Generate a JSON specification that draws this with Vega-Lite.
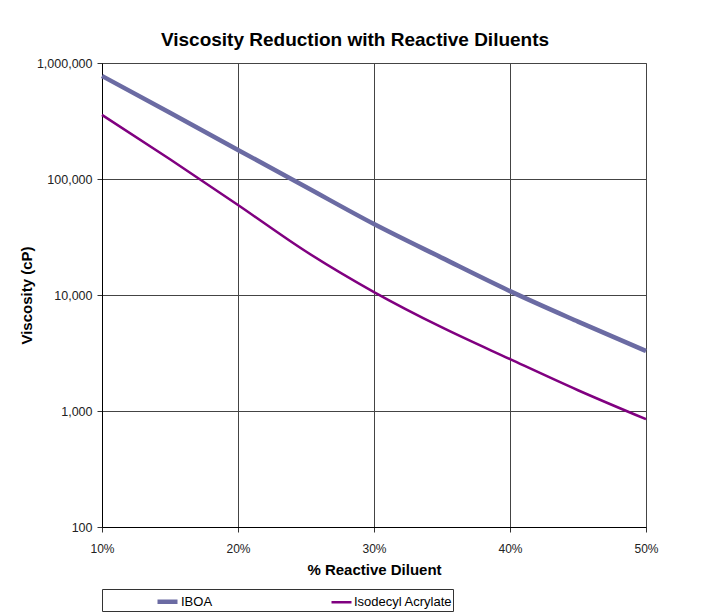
{
  "$schema": "https://vega.github.io/schema/vega-lite/v6.json",
  "width": 544,
  "height": 464,
  "autosize": {"type": "none"},
  "padding": {"left": 102, "top": 63, "right": 61, "bottom": 85},
  "background": "white",
  "title": {
    "text": "Viscosity Reduction with Reactive Diluents",
    "font": "Liberation Sans",
    "fontSize": 19,
    "fontWeight": "bold",
    "color": "#000000",
    "frame": "group",
    "anchor": "middle",
    "dx": -19,
    "offset": 7
  },
  "data": {
    "values": [
      {"pct": 10, "viscosity": 773000, "series": "IBOA"},
      {"pct": 15, "viscosity": 372000, "series": "IBOA"},
      {"pct": 20, "viscosity": 178000, "series": "IBOA"},
      {"pct": 25, "viscosity": 85300, "series": "IBOA"},
      {"pct": 30, "viscosity": 40900, "series": "IBOA"},
      {"pct": 35, "viscosity": 20900, "series": "IBOA"},
      {"pct": 40, "viscosity": 10800, "series": "IBOA"},
      {"pct": 45, "viscosity": 5900, "series": "IBOA"},
      {"pct": 50, "viscosity": 3290, "series": "IBOA"},
      {"pct": 10, "viscosity": 357000, "series": "Isodecyl Acrylate"},
      {"pct": 15, "viscosity": 148000, "series": "Isodecyl Acrylate"},
      {"pct": 20, "viscosity": 59700, "series": "Isodecyl Acrylate"},
      {"pct": 25, "viscosity": 23700, "series": "Isodecyl Acrylate"},
      {"pct": 30, "viscosity": 10600, "series": "Isodecyl Acrylate"},
      {"pct": 35, "viscosity": 5250, "series": "Isodecyl Acrylate"},
      {"pct": 40, "viscosity": 2800, "series": "Isodecyl Acrylate"},
      {"pct": 45, "viscosity": 1510, "series": "Isodecyl Acrylate"},
      {"pct": 50, "viscosity": 850, "series": "Isodecyl Acrylate"}
    ]
  },
  "mark": {"type": "line", "interpolate": "monotone"},
  "encoding": {
    "x": {
      "field": "pct",
      "type": "quantitative",
      "scale": {"domain": [10, 50], "nice": false, "zero": false},
      "axis": {
        "values": [10, 20, 30, 40, 50],
        "labelExpr": "datum.value + '%'",
        "labelFlush": false,
        "title": "% Reactive Diluent",
        "titleFont": "Liberation Sans",
        "titleFontSize": 15,
        "titleFontWeight": "bold",
        "titleColor": "#000000",
        "titlePadding": 8,
        "labelFont": "Liberation Sans",
        "labelFontSize": 12,
        "labelColor": "#222222",
        "labelPadding": 11,
        "tickSize": 5,
        "tickColor": "#333333",
        "domainColor": "#000000",
        "grid": true,
        "gridColor": "#444444",
        "gridOpacity": 1
      }
    },
    "y": {
      "field": "viscosity",
      "type": "quantitative",
      "scale": {"type": "log", "domain": [100, 1000000], "nice": false},
      "axis": {
        "values": [100, 1000, 10000, 100000, 1000000],
        "format": ",d",
        "title": "Viscosity (cP)",
        "titleFont": "Liberation Sans",
        "titleFontSize": 15,
        "titleFontWeight": "bold",
        "titleColor": "#000000",
        "titlePadding": 2,
        "labelFont": "Liberation Sans",
        "labelFontSize": 12.5,
        "labelColor": "#222222",
        "labelPadding": 5,
        "tickSize": 5,
        "tickColor": "#333333",
        "domainColor": "#000000",
        "grid": true,
        "gridColor": "#444444",
        "gridOpacity": 1
      }
    },
    "color": {
      "field": "series",
      "type": "nominal",
      "scale": {"domain": ["IBOA", "Isodecyl Acrylate"], "range": ["#6B6BA3", "#800080"]},
      "legend": {
        "title": null,
        "orient": "none",
        "legendX": 0,
        "legendY": 526,
        "direction": "horizontal",
        "strokeColor": "#333333",
        "padding": 0,
        "symbolType": "stroke",
        "symbolSize": 400,
        "symbolOffset": 53,
        "labelOffset": 1,
        "labelFont": "Liberation Sans",
        "labelFontSize": 13,
        "labelColor": "#000000",
        "columnPadding": 64
      }
    },
    "strokeWidth": {
      "field": "series",
      "type": "nominal",
      "scale": {"domain": ["IBOA", "Isodecyl Acrylate"], "range": [4.5, 2.5]},
      "legend": {
        "title": null,
        "orient": "none",
        "legendX": 0,
        "legendY": 526,
        "direction": "horizontal",
        "strokeColor": "#333333",
        "padding": 0,
        "symbolType": "stroke",
        "symbolSize": 400,
        "symbolOffset": 53,
        "labelOffset": 1,
        "labelFont": "Liberation Sans",
        "labelFontSize": 13,
        "labelColor": "#000000",
        "columnPadding": 64
      }
    }
  },
  "config": {
    "view": {"stroke": "#888888", "strokeWidth": 1}
  }
}
